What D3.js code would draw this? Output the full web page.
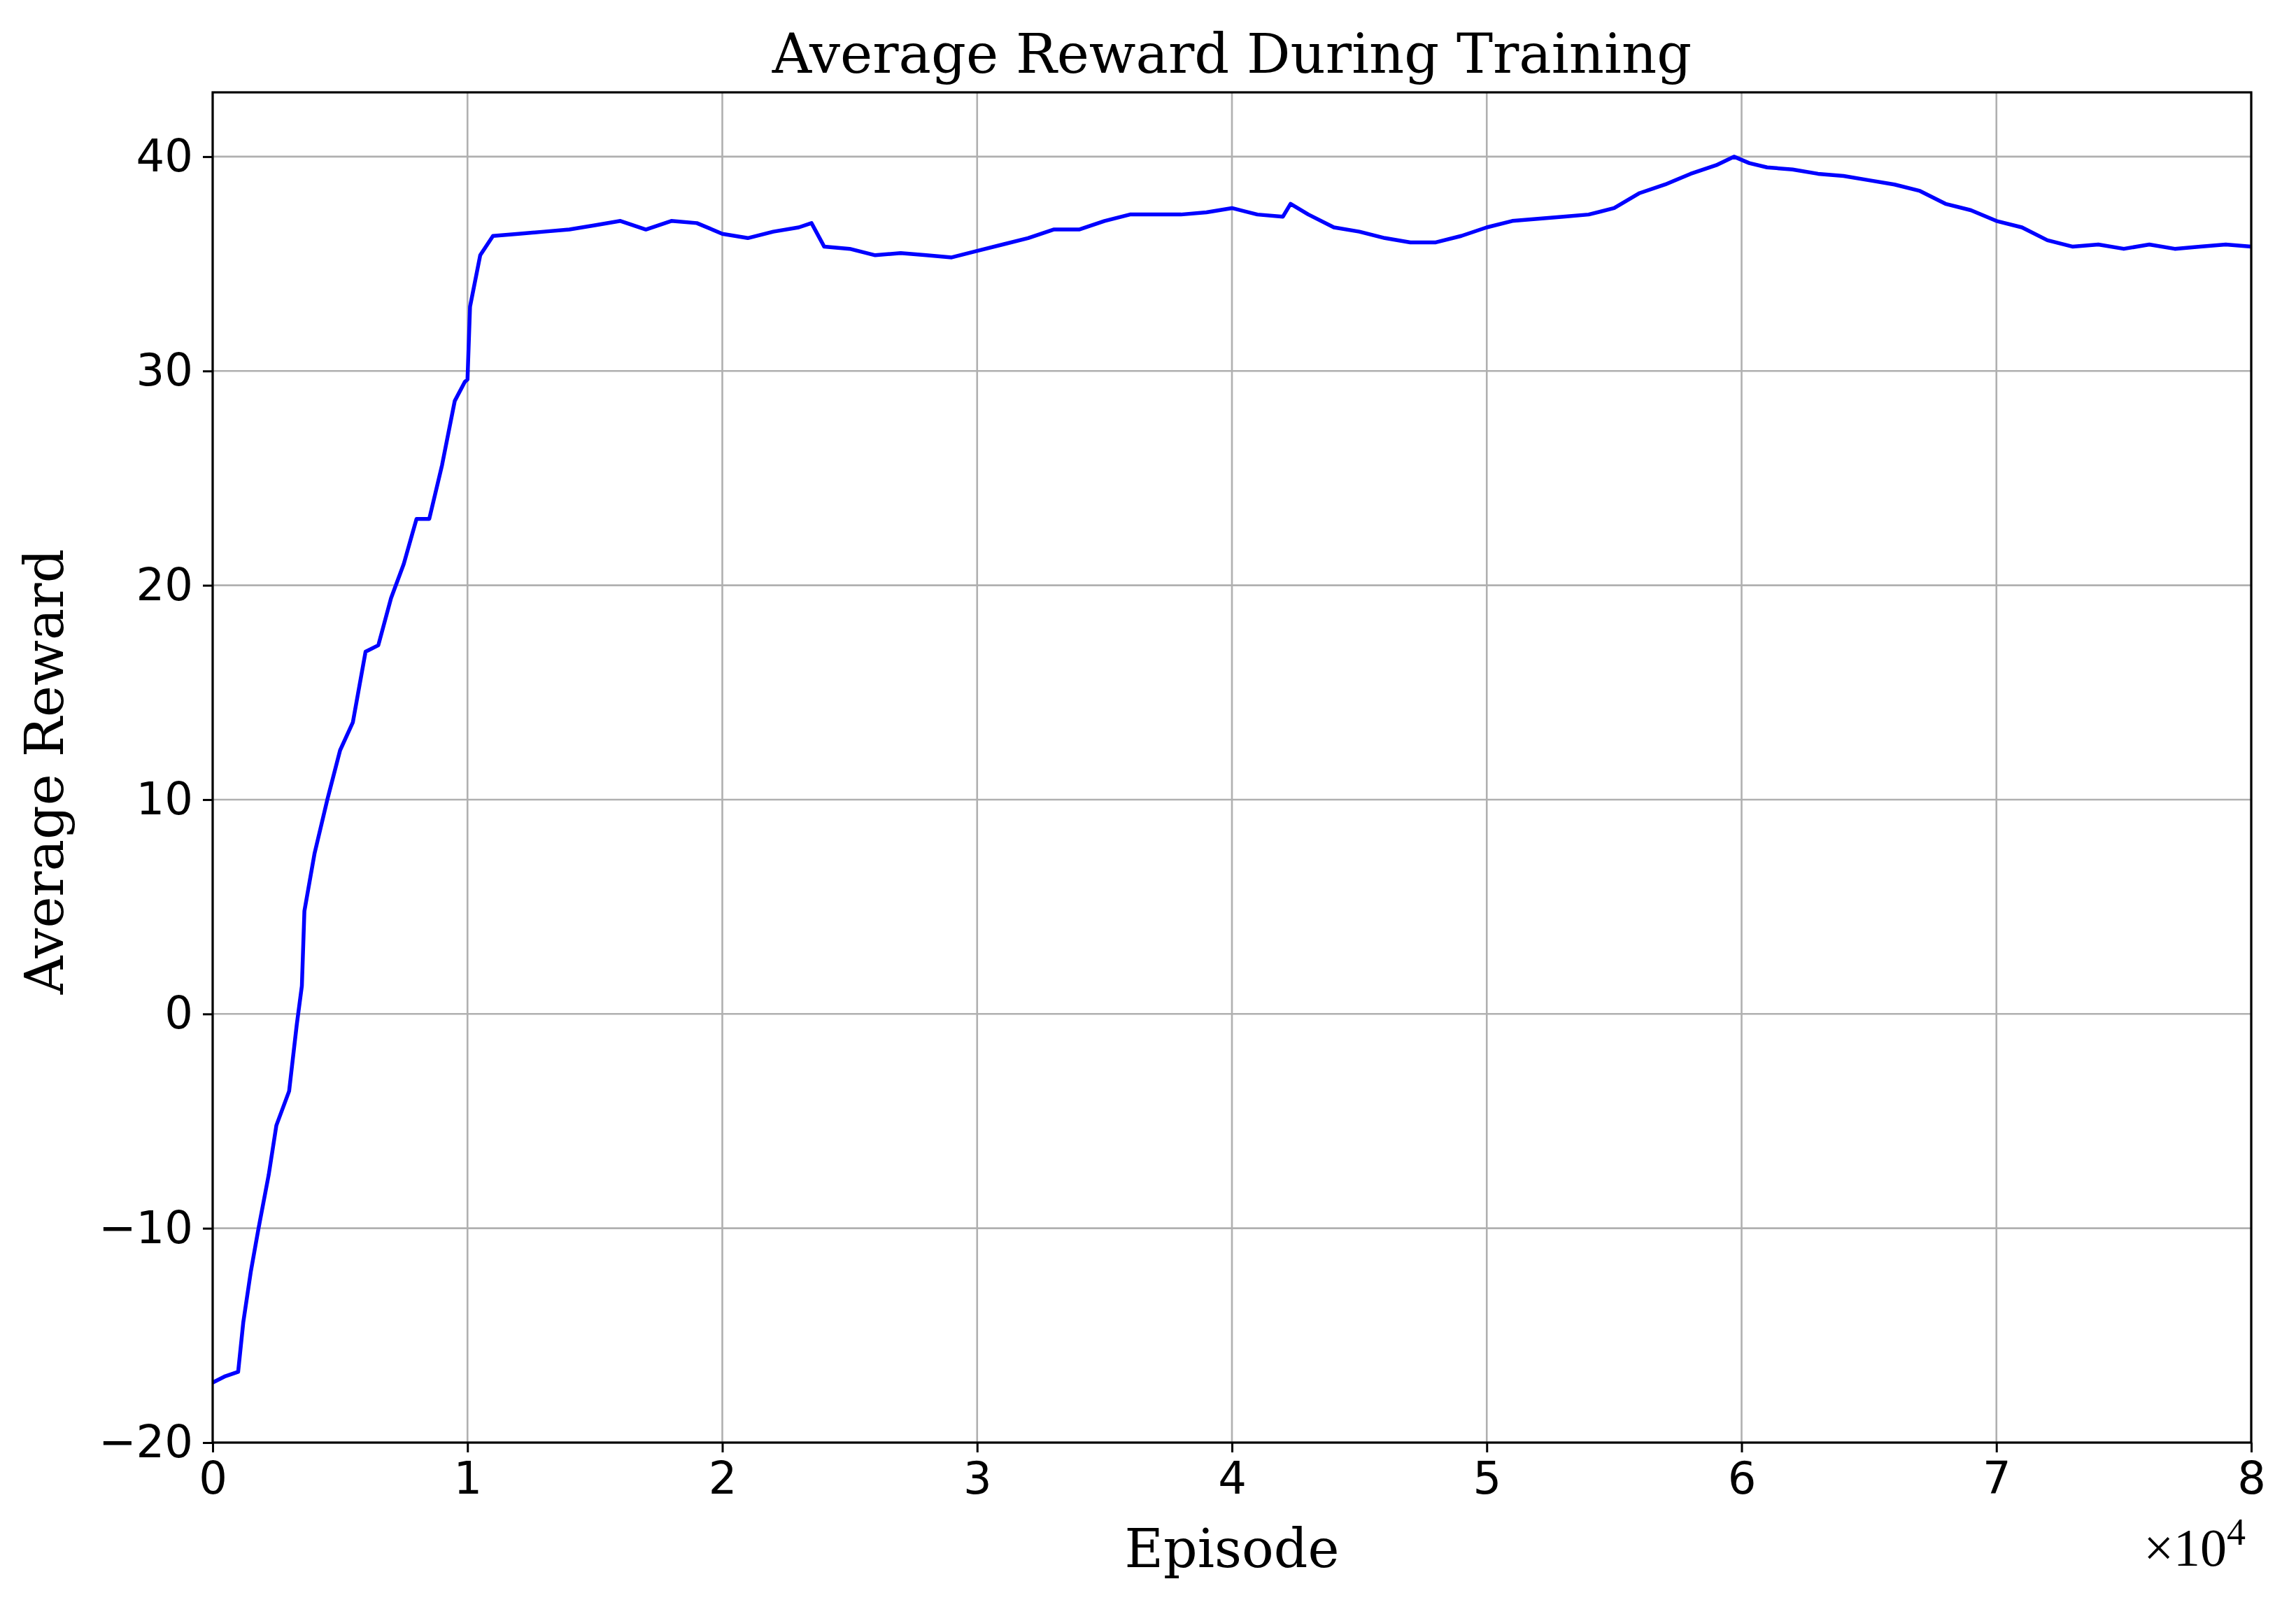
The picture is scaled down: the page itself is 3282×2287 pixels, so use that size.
<!DOCTYPE html>
<html><head><meta charset="utf-8">
<script src="https://cdn.jsdelivr.net/npm/d3@7"></script>
<style>body{margin:0;background:#fff}</style></head>
<body><svg id="c" width="3282" height="2287"></svg>
<script>
const episodes = [0,500,1000,1200,1500,1800,2200,2500,3000,3300,3500,3600,4000,4500,5000,5500,6000,6500,7000,7500,8000,8500,9000,9500,9900,10000,10100,10500,11000,12000,13000,14000,15000,16000,17000,18000,19000,20000,21000,22000,23000,23500,24000,25000,26000,27000,28000,29000,30000,31000,32000,33000,34000,35000,36000,37000,38000,39000,40000,41000,42000,42300,43000,44000,45000,46000,47000,48000,49000,50000,51000,52000,53000,54000,55000,56000,57000,58000,59000,59700,60300,61000,62000,63000,64000,65000,66000,67000,68000,69000,70000,71000,72000,73000,74000,75000,76000,77000,78000,79000,80000];
const rewards = [-17.2,-16.9,-16.7,-14.4,-12,-10,-7.5,-5.2,-3.6,-0.5,1.3,4.8,7.5,10,12.3,13.6,16.9,17.2,19.4,21,23.1,23.1,25.6,28.6,29.5,29.6,33,35.4,36.3,36.4,36.5,36.6,36.8,37.0,36.6,37.0,36.9,36.4,36.2,36.5,36.7,36.9,35.8,35.7,35.4,35.5,35.4,35.3,35.6,35.9,36.2,36.6,36.6,37.0,37.3,37.3,37.3,37.4,37.6,37.3,37.2,37.8,37.3,36.7,36.5,36.2,36.0,36.0,36.3,36.7,37.0,37.1,37.2,37.3,37.6,38.3,38.7,39.2,39.6,40.0,39.7,39.5,39.4,39.2,39.1,38.9,38.7,38.4,37.8,37.5,37.0,36.7,36.1,35.8,35.9,35.7,35.9,35.7,35.8,35.9,35.8];
const xTicks = [0,1,2,3,4,5,6,7,8];
const yTicks = [-20,-10,0,10,20,30,40];

const L=304,R=3218,T=132,B=2062;
const svg=d3.select("#c");
const x=d3.scaleLinear().domain([0,80000]).range([L,R]);
const y=d3.scaleLinear().domain([-20,43]).range([B,T]);
const tf="'DejaVu Sans', sans-serif", sf="'DejaVu Serif', serif";
svg.append("g").selectAll("line").data(xTicks).join("line")
  .attr("x1",d=>x(d*1e4)).attr("x2",d=>x(d*1e4)).attr("y1",T).attr("y2",B)
  .attr("stroke","#b0b0b0").attr("stroke-width",2.6);
svg.append("g").selectAll("line").data(yTicks).join("line")
  .attr("y1",d=>y(d)).attr("y2",d=>y(d)).attr("x1",L).attr("x2",R)
  .attr("stroke","#b0b0b0").attr("stroke-width",2.6);
svg.append("path").datum(episodes.map((e,i)=>[e,rewards[i]]))
  .attr("d",d3.line().x(d=>x(d[0])).y(d=>y(d[1])))
  .attr("fill","none").attr("stroke","#0000ff").attr("stroke-width",5.5).attr("stroke-linejoin","round");
const xa=svg.append("g").attr("transform",`translate(0,${B})`)
  .call(d3.axisBottom(x).tickValues(xTicks.map(d=>d*1e4)).tickFormat(d=>d/1e4).tickSize(14).tickPadding(14));
const ya=svg.append("g").attr("transform",`translate(${L},0)`)
  .call(d3.axisLeft(y).tickValues(yTicks).tickFormat(d=>d<0?"\u2212"+(-d):d).tickSize(14).tickPadding(14));
[xa,ya].forEach(a=>{a.select(".domain").remove();a.selectAll("line").attr("stroke","#000").attr("stroke-width",3);
  a.selectAll("text").attr("font-family",tf).attr("font-size",64).attr("fill","#000");});
svg.append("rect").attr("x",L).attr("y",T).attr("width",R-L).attr("height",B-T)
  .attr("fill","none").attr("stroke","#000").attr("stroke-width",3.2);
svg.append("text").attr("x",(L+R)/2).attr("y",104).attr("text-anchor","middle")
  .attr("font-family",sf).attr("font-size",78).text("Average Reward During Training");
svg.append("text").attr("x",(L+R)/2).attr("y",2240).attr("text-anchor","middle")
  .attr("font-family",sf).attr("font-size",76).text("Episode");
svg.append("text").attr("transform",`translate(90,${(T+B)/2 + 6}) rotate(-90)`).attr("text-anchor","middle")
  .attr("font-family",sf).attr("font-size",76).text("Average Reward");
const m=svg.append("text").attr("x",3210).attr("y",2238).attr("text-anchor","end")
  .attr("font-family","'Liberation Serif', serif").attr("font-size",76);
m.append("tspan").text("\u00d710");
m.append("tspan").attr("dy",-30).attr("font-size",54).text("4");
</script></body></html>
